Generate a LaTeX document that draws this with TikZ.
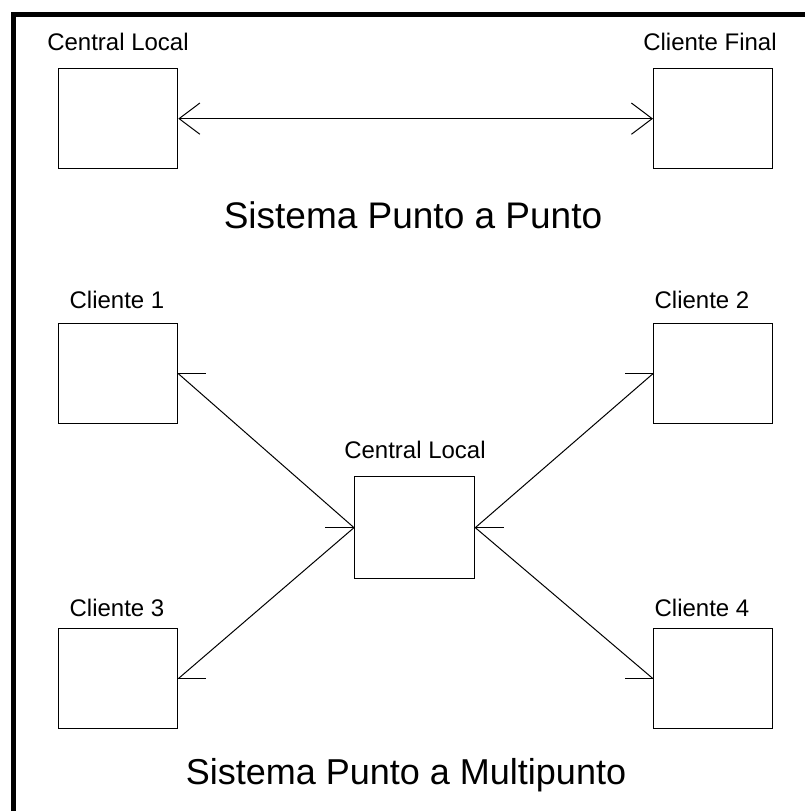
\documentclass[tikz,border=0pt]{standalone}
\usepackage{fontspec}
\setmainfont{Liberation Sans}
\usetikzlibrary{arrows.meta}
\begin{document}
\begin{tikzpicture}[x=1pt,y=-1pt,
  box/.style={draw=black,line width=1.3pt,minimum width=119pt,minimum height=100pt,inner sep=0pt,anchor=north west},
  lbl/.style={font=\fontsize{24}{26}\selectfont,inner sep=0pt},
  ttl/.style={font=\fontsize{37}{40}\selectfont,inner sep=0pt},
  link/.style={line width=1pt,{Straight Barb[angle=74:26pt,line width=1pt]}-{Straight Barb[angle=74:26pt,line width=1pt]}},
  dlink/.style={line width=1pt},
  barb/.style={line width=1.2pt}]
\useasboundingbox (0,0) rectangle (804,811);
\fill[white] (0,0) rectangle (804,811);
\draw[line width=5pt] (13,830) -- (13,14.5) -- (830,14.5);
% top
\node[box] (cl) at (58,68) {};
\node[box] (cf) at (653,68) {};
\node[lbl] (tcl) at (118,42) {Central Local};
\node[lbl] (tcf) at (710,42) {Cliente Final};
\draw[link] (cl.east) -- (cf.west);
\node[ttl] (t1) at (413,215) {Sistema Punto a Punto};
% multipoint
\node[box] (c1) at (58,323) {};
\node[box] (c2) at (653,323) {};
\node[box] (c3) at (58,628) {};
\node[box] (c4) at (653,628) {};
\node[box,minimum width=120pt,minimum height=102pt] (cc) at (354,476) {};
\node[lbl] (tc1) at (117,300) {Cliente 1};
\node[lbl] (tc2) at (702,300) {Cliente 2};
\node[lbl] (tc3) at (117,608) {Cliente 3};
\node[lbl] (tc4) at (702,608) {Cliente 4};
\node[lbl] (tcc) at (415,450) {Central Local};
\draw[dlink] (c1.east) -- (cc.west);
\draw[dlink] (c3.east) -- (cc.west);
\draw[dlink] (c2.west) -- (cc.east);
\draw[dlink] (c4.west) -- (cc.east);
\draw[barb] (c1.east) -- +(28,0);
\draw[barb] (c3.east) -- +(28,0);
\draw[barb] (c2.west) -- +(-28,0);
\draw[barb] (c4.west) -- +(-28,0);
\draw[barb] (cc.west) -- +(-29,0);
\draw[barb] (cc.east) -- +(29,0);
\node[ttl,font=\fontsize{36}{40}\selectfont] (t2) at (406,775) {Sistema Punto a Multipunto};
\end{tikzpicture}
\end{document}
